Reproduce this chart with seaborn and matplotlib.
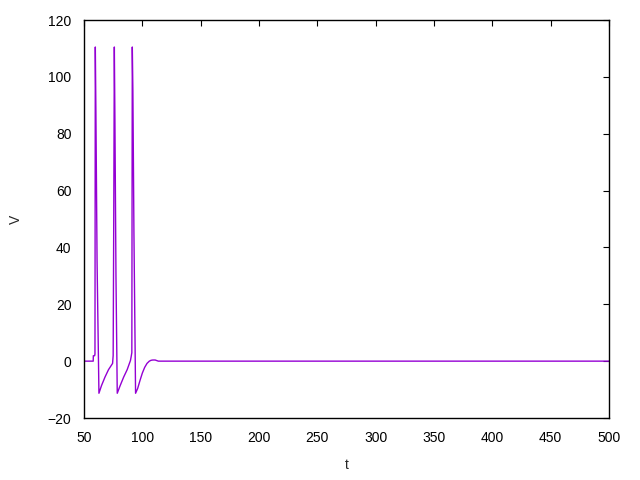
import matplotlib
matplotlib.use("Agg")
import matplotlib.pyplot as plt
import seaborn as sns
import pandas as pd

# Membrane potential trace
t = [50, 57.9, 58.0, 59.1, 59.4, 59.7, 60.2, 61.2, 62.8, 65.0, 68.0, 71.0, 74.5,
     75.0, 75.5, 76.0, 76.5, 77.4, 78.5, 81.0, 84.0, 87.0, 89.8, 90.4, 91.0,
     91.4, 91.9, 92.8, 94.2, 96.0, 98.0, 100.0, 102.0, 104.0, 106.0, 107.5,
     109.0, 111.0, 113.7, 120.0, 500.0]
V = [0.0, 0.0, 1.9, 1.9, 2.5, 110.5, 88.0, 35.0, -11.3, -8.6, -5.6, -3.0, -0.8,
     2.0, 50.0, 110.5, 85.0, 30.0, -11.3, -8.6, -5.6, -3.0, 0.2, 1.5, 3.0,
     110.5, 95.0, 45.0, -11.3, -9.6, -6.8, -4.2, -2.2, -0.8, 0.0, 0.3,
     0.4, 0.4, 0.0, 0.0, 0.0]

df = pd.DataFrame({"t": t, "V": V})

sns.set_style("white")
plt.rcParams["font.family"] = ["Liberation Sans", "DejaVu Sans"]

fig = plt.figure(figsize=(6.4, 4.8), dpi=100)
ax = fig.add_axes([84 / 640, 1 - 418 / 480, (609 - 84) / 640, (418 - 20) / 480])

sns.lineplot(data=df, x="t", y="V", ax=ax, color="#9400d3", linewidth=1.0,
             sort=False, estimator=None)

ax.set_xlim(50, 500)
ax.set_ylim(-20, 120)
ax.set_xticks(range(50, 501, 50))
ax.set_yticks(range(-20, 121, 20))
ax.tick_params(direction="in", length=4.5, width=0.8, top=True, right=True,
               labelsize=10, colors="black")
ax.tick_params(axis="x", pad=9)
ax.tick_params(axis="y", pad=9)
for s in ax.spines.values():
    s.set_visible(True)
    s.set_color("black")
    s.set_linewidth(1.0)
ax.set_xlabel("t", fontsize=10, labelpad=10)
ax.set_ylabel("V", fontsize=10, labelpad=18, rotation=90)
ax.grid(False)

fig.savefig("out.png", dpi=100)
